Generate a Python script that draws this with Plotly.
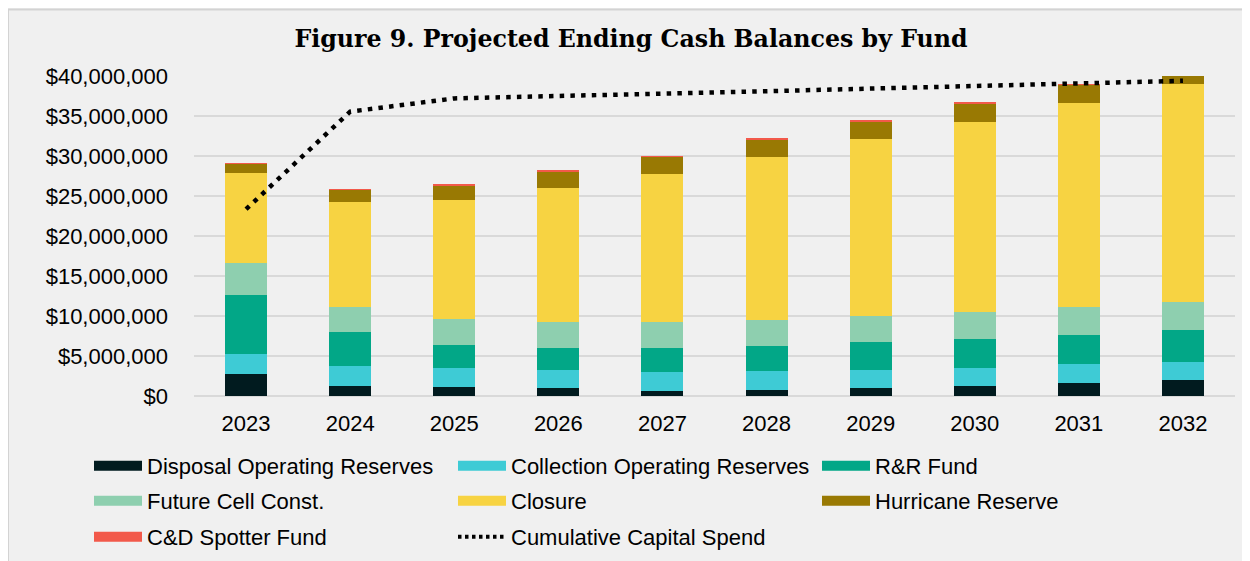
import plotly.graph_objects as go

years = ["2023", "2024", "2025", "2026", "2027", "2028", "2029", "2030", "2031", "2032"]

disposal = [2.69, 1.31, 1.10, 0.98, 0.60, 0.78, 0.98, 1.31, 1.65, 2.03]
collection = [2.57, 2.38, 2.38, 2.33, 2.38, 2.32, 2.33, 2.25, 2.29, 2.19]
rr_fund = [7.42, 4.25, 2.92, 2.71, 2.96, 3.09, 3.38, 3.59, 3.66, 3.97]
future_cell = [3.91, 3.16, 3.25, 3.29, 3.25, 3.34, 3.37, 3.41, 3.50, 3.50]
closure = [11.25, 13.10, 14.90, 16.63, 18.54, 20.32, 22.04, 23.71, 25.50, 27.29]
hurricane = [1.17, 1.56, 1.80, 2.16, 2.17, 2.21, 2.21, 2.29, 2.30, 2.30]
cd_spotter = [0.05, 0.05, 0.10, 0.10, 0.10, 0.10, 0.10, 0.10, 0.05, 0.05]
cumulative_capital = [23.35, 35.55, 37.20, 37.56, 37.80, 38.10, 38.44, 38.72, 39.06, 39.40]

MILLION = 1_000_000

series = [
    ("Disposal Operating Reserves", disposal, "#011b1f"),
    ("Collection Operating Reserves", collection, "#3ecbd5"),
    ("R&R Fund", rr_fund, "#02a787"),
    ("Future Cell Const.", future_cell, "#8ecfaf"),
    ("Closure", closure, "#f7d342"),
    ("Hurricane Reserve", hurricane, "#997903"),
    ("C&D Spotter Fund", cd_spotter, "#f2594a"),
]
line_name = "Cumulative Capital Spend"

# page is drawn with an 8px body margin, so the figure is 8px smaller
W, H = 1242, 553
ML, MR, MT, MB = 186, 15, 68, 165
FONT = "Liberation Sans, Arial, sans-serif"

pw = W - ML - MR
ph = H - MT - MB
def px_x(p):
    return (p - ML) / pw
def px_y(p):
    return (H - MB - p) / ph

fig = go.Figure()

for name, vals, color in series:
    fig.add_trace(go.Bar(
        x=years, y=[v * MILLION for v in vals], name=name,
        marker=dict(color=color, line=dict(width=0)),
        showlegend=False,
    ))

fig.add_trace(go.Scatter(
    x=years, y=[v * MILLION for v in cumulative_capital],
    mode="lines", name=line_name,
    line=dict(color="#000000", width=4.5, dash="4.5px,6.2px"),
    showlegend=False,
))

# legend entries: three rows of three, each row its own legend
legend_ids = ["legend", "legend", "legend",
              "legend2", "legend2", "legend2",
              "legend3"]
for (name, _, color), lg in zip(series, legend_ids):
    fig.add_trace(go.Scatter(
        x=[None], y=[None], mode="lines", name=name,
        line=dict(color=color, width=10), showlegend=True, legend=lg,
    ))
fig.add_trace(go.Scatter(
    x=[None], y=[None], mode="lines", name=line_name,
    line=dict(color="#000000", width=4, dash="3.5px,3.5px"), showlegend=True,
    legend="legend3",
))

def legend_box(top_px):
    return dict(
        orientation="h", traceorder="normal",
        x=px_x(81), xanchor="left",
        y=px_y(top_px), yanchor="top",
        entrywidth=301, entrywidthmode="pixels",
        itemwidth=48,
        font=dict(family=FONT, size=22, color="#000000"),
        bgcolor="rgba(0,0,0,0)", borderwidth=0,
    )

fig.update_layout(
    width=W, height=H,
    margin=dict(l=ML, r=MR, t=MT, b=MB, autoexpand=False),
    paper_bgcolor="#f0f0f0", plot_bgcolor="#f0f0f0",
    barmode="stack", bargap=0.596,
    title=dict(
        text="<b>Figure 9. Projected Ending Cash Balances by Fund</b>",
        font=dict(family="DejaVu Serif, Georgia, serif", size=23.7, color="#000000"),
        x=623 / W, xref="container", xanchor="center",
        y=1 - 31 / H, yref="container", yanchor="middle",
    ),
    font=dict(family=FONT, size=22, color="#000000"),
    legend=legend_box(437),
    legend2=legend_box(472),
    legend3=legend_box(508),
    xaxis=dict(
        type="category", showgrid=False, showline=False, ticks="",
        tickfont=dict(family=FONT, size=22, color="#000000"),
        ticklabelstandoff=12,
    ),
    yaxis=dict(
        range=[0, 40 * MILLION], dtick=5 * MILLION,
        tickprefix="$", tickformat=",.0f",
        showgrid=True, gridcolor="#d9d9d9", gridwidth=2,
        zeroline=True, zerolinecolor="#d9d9d9", zerolinewidth=2,
        showline=False, ticks="",
        tickfont=dict(family=FONT, size=22, color="#000000"),
        ticklabelstandoff=25,
    ),
    showlegend=True,
)

# outer frame line (top and left edges of the figure box)
fig.add_shape(type="rect", xref="paper", yref="paper",
              x0=px_x(0), x1=px_x(W + 20), y0=px_y(1.5), y1=px_y(H + 20),
              line=dict(color="#d3d3d3", width=2), fillcolor="rgba(0,0,0,0)", layer="below")

fig.write_html("out.html")
